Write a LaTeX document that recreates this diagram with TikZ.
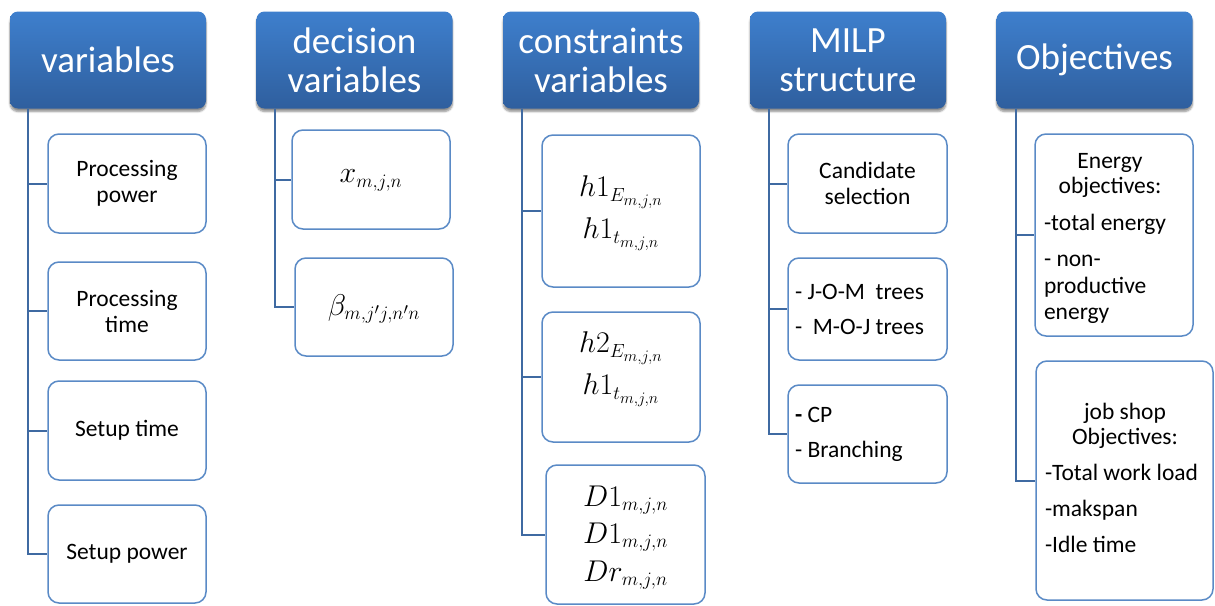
\RequirePackage{fix-cm}
\documentclass[tikz,border=0pt]{standalone}
\usepackage{fontspec}
\setmainfont{Carlito}
\usetikzlibrary{shadows.blur}
\DeclareMathSizes{30}{30}{19}{16}
\definecolor{hdtop}{HTML}{3E7FCD}
\definecolor{hdbot}{HTML}{2F5F9E}
\definecolor{boxline}{HTML}{5A8AC6}
\definecolor{trunk}{HTML}{3F6AA2}
\tikzset{
  header/.style={rounded corners=8pt, top color=hdtop, bottom color=hdbot, draw=none,
    minimum width=196pt, minimum height=97pt, text=white, align=center,
    font=\fontsize{37}{39}\selectfont, inner sep=0pt,
    blur shadow={shadow xshift=0pt, shadow yshift=-3pt, shadow blur steps=6, shadow opacity=45}},
  child/.style={rounded corners=11pt, draw=boxline, line width=1.5pt, fill=white,
    align=center, font=\fontsize{23.5}{26}\selectfont, inner sep=0pt},
  plain/.style={child, draw=none, fill=none},
  conn/.style={draw=trunk, line width=2pt},
  mathtxt/.style={font=\fontsize{30}{36}\selectfont, align=center, inner sep=0pt}
}
\newcommand{\cbox}[6]{% name, x1, y1, x2, y2, text
  \node[child, minimum width={#4-#2}, minimum height={#5-#3}] (#1) at ({(#2+#4)/2},{(#3+#5)/2}) {#6};}
\begin{document}
\begin{tikzpicture}[x=1pt,y=-1pt]
\useasboundingbox (0,0) rectangle (1215,605);
% headers
\node[header] (h1) at (108,60) {variables};
\node[header] (h2) at (354.5,60) {decision\\variables};
\node[header] (h3) at (601,60) {constraints\\variables};
\node[header] (h4) at (848,60) {MILP\\structure};
\node[header] (h5) at (1094.5,60) {Objectives};
% column 1
\cbox{a1}{48}{134}{206}{233}{Processing\\power}
\cbox{a2}{48}{262}{206}{360}{Processing\\time}
\cbox{a3}{48}{381}{206}{480}{Setup time}
\cbox{a4}{48}{505}{206}{603}{Setup power}
\draw[conn] (h1.south -| 28,0) |- (a4.west);
\foreach \n in {a1,a2,a3} \draw[conn] (28,0 |- \n.west) -- (\n.west);
% column 2
\cbox{b1}{292}{130}{450}{229}{}
\cbox{b2}{295}{258}{453}{356}{}
\node[mathtxt] (b1t) at ([yshift=-1pt]b1.center) {$x_{m,j,n}$};
\node[mathtxt] (b2t) at ([yshift=-2pt]b2.center) {$\beta_{m,j'j,n'n}$};
\draw[conn] (h2.south -| 275,0) |- (b2.west);
\draw[conn] (275,0 |- b1.west) -- (b1.west);
% column 3
\cbox{c1}{542}{135}{700}{287}{}
\cbox{c2}{542}{312}{700}{442}{}
\cbox{c3}{546}{465}{705}{604}{}
\node[mathtxt] (c1t) at ([yshift=-2pt]c1.center) {$h1_{E_{m,j,n}}$\\[6pt]$h1_{t_{m,j,n}}$};
\node[mathtxt] (c2t) at ([yshift=8pt]c2.center) {$h2_{E_{m,j,n}}$\\[6pt]$h1_{t_{m,j,n}}$};
\node[mathtxt] (c3t) at ([yshift=-3pt]c3.center) {$D1_{m,j,n}$\\[1pt]$D1_{m,j,n}$\\[2pt]$Dr_{m,j,n}$};
\draw[conn] (h3.south -| 522,0) |- (c3.west);
\foreach \n in {c1,c2} \draw[conn] (522,0 |- \n.west) -- (\n.west);
% column 4
\cbox{d1}{788}{134}{947}{233}{Candidate\\selection}
\cbox{d2}{788}{258}{947}{360}{}
\cbox{d3}{788}{385}{947}{483}{}
\node[plain, align=left, anchor=west] (d2t) at ([xshift=7pt]d2.west) {- J-O-M\ \ trees\\[9pt]-\ \ M-O-J trees};
\node[plain, align=left, anchor=west] (d3t) at ([xshift=7pt]d3.west) {\textbf{-} CP\\[9pt]- Branching};
\draw[conn] (h4.south -| 769,0) |- (d3.west);
\foreach \n in {d1,d2} \draw[conn] (769,0 |- \n.west) -- (\n.west);
% column 5
\cbox{e1}{1035}{134}{1193}{336}{}
\cbox{e2}{1036}{361}{1213}{600}{}
\node[plain, align=left, anchor=west] (e1t) at ([xshift=9pt,yshift=-3pt]e1.west)
  {\makebox[132pt]{Energy}\\[-1pt]\makebox[132pt]{objectives:}\\[11pt]-total energy\\[10pt]- non-\\[1pt]productive\\energy};
\node[plain, align=left, anchor=west] (e2t) at ([xshift=9pt,yshift=3pt]e2.west)
  {\makebox[160pt]{job shop}\\[-1pt]\makebox[160pt]{Objectives:}\\[10pt]-Total work load\\[10pt]-makspan\\[10pt]-Idle time};
\draw[conn] (h5.south -| 1016,0) |- (e2.west);
\draw[conn] (1016,0 |- e1.west) -- (e1.west);
\end{tikzpicture}
\end{document}
